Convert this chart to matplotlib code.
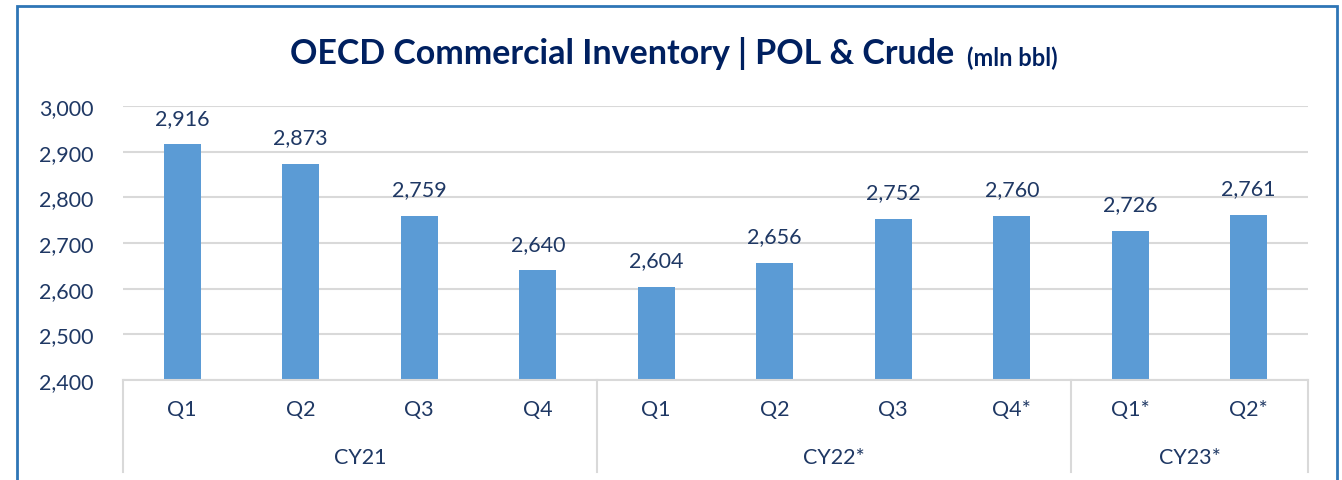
import matplotlib.pyplot as plt
import numpy as np
from matplotlib.patches import Rectangle

quarters = ["Q1", "Q2", "Q3", "Q4", "Q1", "Q2", "Q3", "Q4*", "Q1*", "Q2*"]
years = ["CY21", "CY22*", "CY23*"]
year_sizes = [4, 4, 2]
inventory = [2916, 2873, 2759, 2640, 2604, 2656, 2752, 2760, 2726, 2761]

navy = "#1F3864"
bar_color = "#5B9BD5"
grid_color = "#D9D9D9"

plt.rcParams["font.family"] = ["Lato", "DejaVu Sans"]

fig = plt.figure(figsize=(13.42, 4.81), dpi=100)
ax = fig.add_axes([123 / 1342, 1 - 381 / 481, (1308 - 123) / 1342, (381 - 107) / 481])

x = np.arange(len(inventory))
ax.bar(x, inventory, width=0.31, color=bar_color, zorder=2)
for xi, v in zip(x, inventory):
    ax.annotate(f"{v:,}", (xi, v), xytext=(0, 12), textcoords="offset points",
                ha="center", va="bottom", fontsize=15.5, color=navy)

ax.set_xlim(-0.5, len(inventory) - 0.5)
ax.set_ylim(2400, 3000)
ax.set_yticks(np.arange(2400, 3001, 100))
ax.set_yticklabels([f"{t:,}" for t in range(2400, 3001, 100)], fontsize=15.5, color=navy)
ax.tick_params(axis="y", length=0, pad=21)
ax.tick_params(axis="x", length=0)
ax.set_xticks([])
ax.grid(axis="y", color=grid_color, linewidth=1.5, zorder=0)
for s in ["top", "right", "left"]:
    ax.spines[s].set_visible(False)
ax.spines["bottom"].set_color(grid_color)
ax.spines["bottom"].set_linewidth(1.5)

# two-level category axis
for xi, q in zip(x, quarters):
    ax.text(xi, -0.105, q, transform=ax.get_xaxis_transform(), ha="center", va="center",
            fontsize=15.5, color=navy)
start = 0
bounds = [-0.5]
for name, n in zip(years, year_sizes):
    mid = start + (n - 1) / 2
    ax.text(mid, -0.28, name, transform=ax.get_xaxis_transform(), ha="center", va="center",
            fontsize=15.5, color=navy)
    start += n
    bounds.append(start - 0.5)
for b in bounds:
    ax.plot([b, b], [0, -0.335], transform=ax.get_xaxis_transform(), color=grid_color,
            linewidth=1.5, clip_on=False)

# title
fig.text(290 / 1342, 1 - 54 / 481, "OECD Commercial Inventory | POL & Crude", ha="left", va="center",
         fontsize=24.5, fontweight="bold", color="#002060")
fig.text(967 / 1342, 1 - 58 / 481, "(mln bbl)", ha="left", va="center",
         fontsize=17, fontweight="bold", color="#002060")

# outer frame
fig.patches.append(Rectangle((17 / 1342, -0.05), (1337 - 17) / 1342, 1.05 - 7 / 481,
                             transform=fig.transFigure, fill=False, edgecolor="#2E75B6",
                             linewidth=2))

fig.savefig("out.png", dpi=100)
